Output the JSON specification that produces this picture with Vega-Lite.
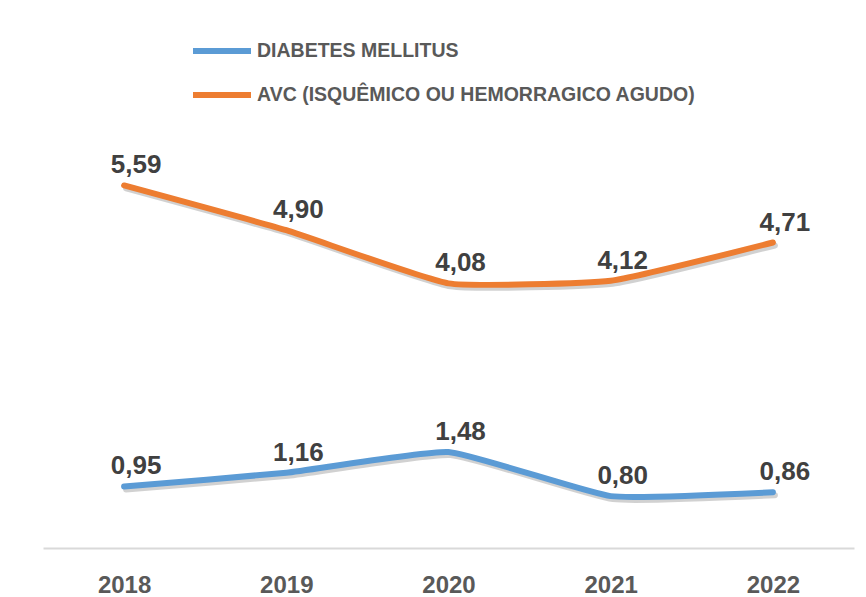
{
  "$schema": "https://vega.github.io/schema/vega-lite/v6.json",
  "autosize": {"type": "none"},
  "width": 811,
  "height": 454,
  "padding": {"left": 43, "top": 94, "right": 12, "bottom": 49},
  "background": "white",
  "config": {
    "view": {"stroke": null},
    "font": "Liberation Sans",
    "locale": {"number": {"decimal": ",", "thousands": ".", "grouping": [3], "currency": ["R$", ""]}}
  },
  "data": {
    "values": [
      {"ano": "2018", "serie": "DIABETES MELLITUS", "valor": 0.95},
      {"ano": "2019", "serie": "DIABETES MELLITUS", "valor": 1.16},
      {"ano": "2020", "serie": "DIABETES MELLITUS", "valor": 1.48},
      {"ano": "2021", "serie": "DIABETES MELLITUS", "valor": 0.80},
      {"ano": "2022", "serie": "DIABETES MELLITUS", "valor": 0.86},
      {"ano": "2018", "serie": "AVC (ISQUÊMICO OU HEMORRAGICO AGUDO)", "valor": 5.59},
      {"ano": "2019", "serie": "AVC (ISQUÊMICO OU HEMORRAGICO AGUDO)", "valor": 4.90},
      {"ano": "2020", "serie": "AVC (ISQUÊMICO OU HEMORRAGICO AGUDO)", "valor": 4.08},
      {"ano": "2021", "serie": "AVC (ISQUÊMICO OU HEMORRAGICO AGUDO)", "valor": 4.12},
      {"ano": "2022", "serie": "AVC (ISQUÊMICO OU HEMORRAGICO AGUDO)", "valor": 4.71}
    ]
  },
  "encoding": {
    "x": {
      "field": "ano",
      "type": "ordinal",
      "scale": {"type": "point", "padding": 0.5},
      "axis": {
        "title": null,
        "labelAngle": 0,
        "ticks": false,
        "grid": false,
        "domainColor": "#D9D9D9",
        "domainWidth": 2,
        "labelFont": "Liberation Sans",
        "labelFontSize": 24,
        "labelFontWeight": "bold",
        "labelColor": "#595959",
        "labelBaseline": "alphabetic",
        "labelPadding": 44
      }
    },
    "y": {
      "field": "valor",
      "type": "quantitative",
      "scale": {"domain": [0, 7], "nice": false, "zero": true},
      "axis": null
    }
  },
  "layer": [
    {
      "mark": {"type": "line", "strokeWidth": 6, "strokeCap": "round", "strokeJoin": "round", "interpolate": "cardinal", "tension": 0.6, "color": "#000000", "opacity": 0.18, "xOffset": 2, "yOffset": 3},
      "encoding": {"detail": {"field": "serie"}}
    },
    {
      "mark": {"type": "line", "strokeWidth": 6, "strokeCap": "round", "strokeJoin": "round", "interpolate": "cardinal", "tension": 0.6},
      "encoding": {
        "color": {
          "field": "serie",
          "type": "nominal",
          "scale": {
            "domain": ["DIABETES MELLITUS", "AVC (ISQUÊMICO OU HEMORRAGICO AGUDO)"],
            "range": ["#5B9BD5", "#ED7D31"]
          },
          "legend": {
            "title": null,
            "orient": "none",
            "legendX": 147,
            "legendY": -75,
            "direction": "vertical",
            "symbolType": "stroke",
            "symbolStrokeWidth": 6,
            "symbolSize": 3364,
            "labelFont": "Liberation Sans",
            "labelFontSize": 19.5,
            "labelFontWeight": "bold",
            "labelColor": "#595959",
            "labelOffset": 3,
            "labelLimit": 600,
            "rowPadding": 0
          }
        }
      }
    },
    {
      "mark": {"type": "text", "font": "Liberation Sans", "fontSize": 26, "fontWeight": "bold", "color": "#404040", "baseline": "alphabetic", "dy": -12, "dx": 12},
      "encoding": {
        "text": {"field": "valor", "type": "quantitative", "format": ".2f"},
        "detail": {"field": "serie"}
      }
    }
  ]
}
